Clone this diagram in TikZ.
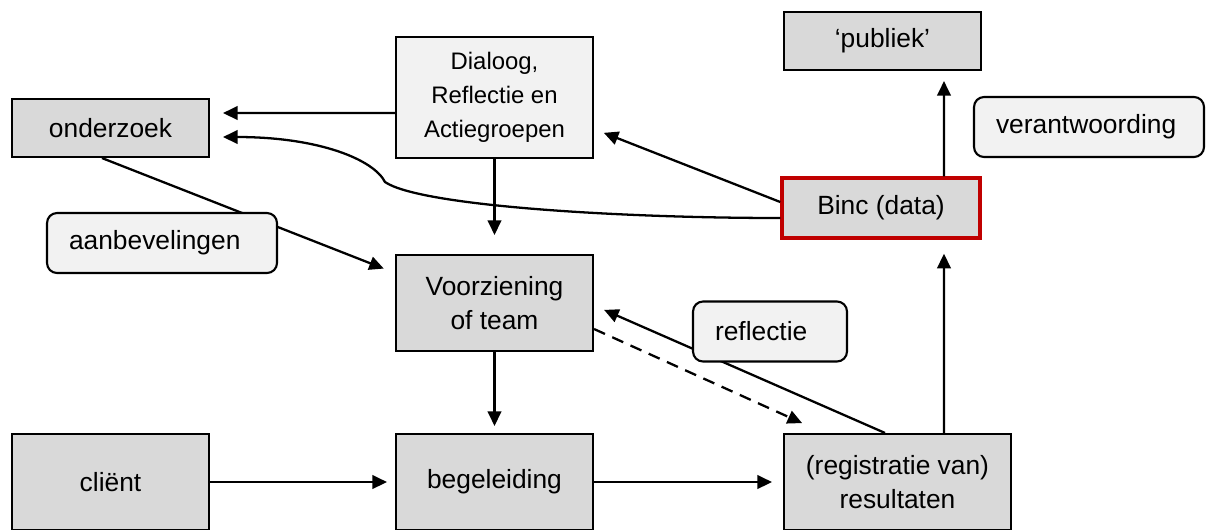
\documentclass[tikz,border=0pt]{standalone}
\usepackage{fontspec}
\setmainfont{Liberation Sans}
\usetikzlibrary{arrows.meta}
\definecolor{boxgray}{HTML}{D9D9D9}
\definecolor{boxlight}{HTML}{F2F2F2}
\definecolor{bincred}{HTML}{C00000}

\begin{document}
\begin{tikzpicture}[x=0.02cm, y=-0.02cm,
    box/.style={draw, line width=1.2pt, fill=boxgray, minimum width=3.94cm, align=center, font=\fontsize{15}{19}\selectfont},
    lbl/.style={draw, line width=1.2pt, fill=boxlight, rounded corners=0.2cm, minimum height=1.2cm, inner xsep=0.44cm, align=left, font=\fontsize{15}{19}\selectfont},
    arr/.style={line width=1.3pt, -{Triangle[length=0.29cm, width=0.27cm]}}]

    \useasboundingbox (0,0) rectangle (1207,529);

    \node[box, minimum height=1.16cm] (ond) at (110.5,128) {onderzoek};
    \node[box, fill=boxlight, minimum height=2.42cm, font=\fontsize{13.6}{19.4}\selectfont] (dia) at (494.5,97.5) {Dialoog,\\Reflectie en\\Actiegroepen};
    \node[box, minimum height=1.16cm] (pub) at (882.5,41) {‘publiek’};
    \node[box, draw=bincred, line width=2pt, minimum width=3.96cm, minimum height=1.2cm] (binc) at (881,208) {Binc (data)};
    \node[box, minimum height=1.92cm] (voo) at (494.5,303) {Voorziening\\of team};
    \node[box, minimum height=1.92cm] (cli) at (110.5,482) {cliënt};
    \node[box, minimum height=1.92cm] (beg) at (494.5,482) {begeleiding};
    \node[box, minimum width=4.54cm, minimum height=1.92cm] (reg) at (897.5,482) {(registratie van)\\resultaten};

    \draw[arr, shorten >=0.26cm] ([yshift=-0.31cm]dia.west) -- ([yshift=0.3cm]ond.east);
    \draw[arr, shorten >=0.26cm] ([yshift=-0.2cm]binc.west) .. controls (620,218) and (420,206) .. (385,182) .. controls (374,160) and (320,137) .. ([yshift=-0.18cm]ond.east);
    \draw[arr, shorten >=0.24cm] ([xshift=-0.17cm]ond.south) -- ([yshift=-0.38cm]voo.north west);
    \draw[arr, shorten >=0.38cm] (dia.south) -- (voo.north);
    \draw[arr, shorten >=0.21cm] ([yshift=0.12cm]binc.west) -- ([yshift=-0.63cm]dia.east);
    \draw[arr, shorten >=0.2cm] ([xshift=1.26cm]binc.north) -- ([xshift=1.23cm]pub.south);
    \draw[arr, shorten >=0.14cm] (voo.south) -- (beg.north);
    \draw[arr, shorten >=0.16cm] (cli.east) -- (beg.west);
    \draw[arr, shorten >=0.22cm] (beg.east) -- (reg.west);
    \draw[arr, dashed, dash pattern=on 0.24cm off 0.16cm, shorten >=0.48cm] ([yshift=-0.52cm]voo.east) -- ([xshift=0.82cm]reg.north west);
    \draw[arr, shorten >=0.22cm] ([xshift=-0.25cm]reg.north) -- ([yshift=-0.05cm]voo.east);
    \draw[arr, shorten >=0.28cm] ([xshift=0.93cm]reg.north) -- ([xshift=1.26cm]binc.south);

    \node[lbl, text width=3.72cm] (aan) at (162,243) {aanbevelingen};
    \node[lbl, text width=2.2cm] (ref) at (770,331.5) {reflectie};
    \node[lbl, text width=3.72cm] (ver) at (1089,127) {verantwoording};
\end{tikzpicture}
\end{document}
